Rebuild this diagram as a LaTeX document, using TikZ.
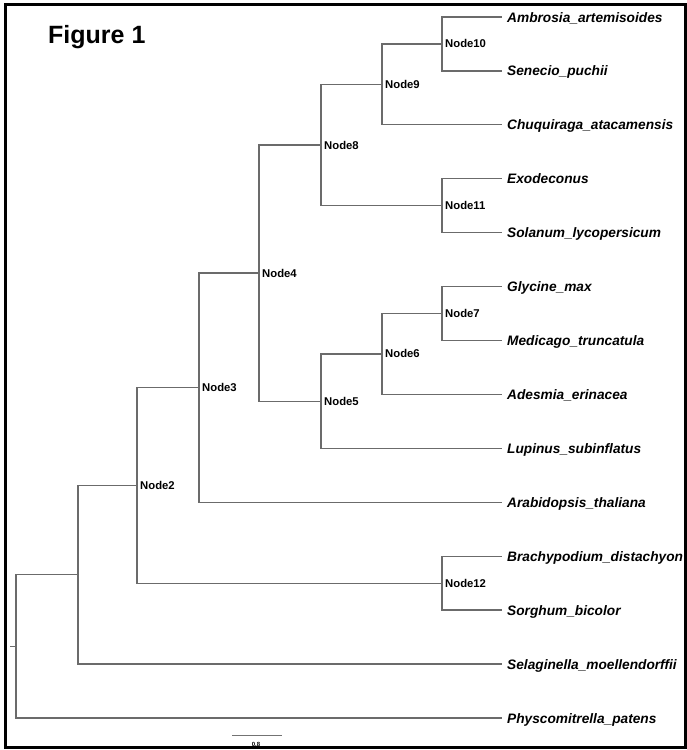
\documentclass[tikz,border=0pt]{standalone}
\usepackage{fontspec}
\setmainfont{Liberation Sans}
\begin{document}
\begin{tikzpicture}[x=1pt,y=-1pt,
  br/.style={draw=black!58, line width=1.3pt},
  leaf/.style={anchor=base west, inner sep=0pt, font=\fontsize{13.7}{16}\selectfont\bfseries\itshape},
  nlab/.style={anchor=base west, inner sep=0pt, font=\fontsize{11.3}{13}\selectfont\bfseries}]
\useasboundingbox (0,0) rectangle (687,750);
\draw[line width=2.5pt] (5.25,4.25) rectangle (685.5,747.5);
\node[anchor=base west, inner sep=0pt, font=\fontsize{25}{28}\selectfont\bfseries] (title) at (48,43) {Figure 1};
% tips
\coordinate (t0) at (502,17);
\coordinate (t1) at (502,70.9);
\coordinate (t2) at (502,124.8);
\coordinate (t3) at (502,178.8);
\coordinate (t4) at (502,232.7);
\coordinate (t5) at (502,286.6);
\coordinate (t6) at (502,340.5);
\coordinate (t7) at (502,394.4);
\coordinate (t8) at (502,448.4);
\coordinate (t9) at (502,502.3);
\coordinate (t10) at (502,556.2);
\coordinate (t11) at (502,610.1);
\coordinate (t12) at (502,664.0);
\coordinate (t13) at (502,718.0);
% internal nodes
\coordinate (n10) at (442,43.95);
\coordinate (n9) at (382,84.4);
\coordinate (n11) at (442,205.75);
\coordinate (n8) at (321,145.1);
\coordinate (n7) at (442,313.55);
\coordinate (n6) at (382,353.98);
\coordinate (n5) at (321,401.2);
\coordinate (n4) at (259,273.1);
\coordinate (n3) at (199,387.7);
\coordinate (n12) at (442,583.15);
\coordinate (n2) at (137,485.4);
\coordinate (n1) at (78,574.7);
\coordinate (r) at (16,646.3);
\coordinate (stub) at (10,646.3);
% branches
\draw[br] (stub) -- (r);
\draw[br] (r) |- (n1);
\draw[br] (r) |- (t13);
\draw[br] (n1) |- (n2);
\draw[br] (n1) |- (t12);
\draw[br] (n2) |- (n3);
\draw[br] (n2) |- (n12);
\draw[br] (n12) |- (t10);
\draw[br] (n12) |- (t11);
\draw[br] (n3) |- (n4);
\draw[br] (n3) |- (t9);
\draw[br] (n4) |- (n8);
\draw[br] (n4) |- (n5);
\draw[br] (n8) |- (n9);
\draw[br] (n8) |- (n11);
\draw[br] (n9) |- (n10);
\draw[br] (n9) |- (t2);
\draw[br] (n10) |- (t0);
\draw[br] (n10) |- (t1);
\draw[br] (n11) |- (t3);
\draw[br] (n11) |- (t4);
\draw[br] (n5) |- (n6);
\draw[br] (n5) |- (t8);
\draw[br] (n6) |- (n7);
\draw[br] (n6) |- (t7);
\draw[br] (n7) |- (t5);
\draw[br] (n7) |- (t6);
% node labels
\node[nlab] (l2) at ([xshift=3pt,yshift=-4pt]n2) {Node2};
\node[nlab] (l3) at ([xshift=3pt,yshift=-4pt]n3) {Node3};
\node[nlab] (l4) at ([xshift=3pt,yshift=-4pt]n4) {Node4};
\node[nlab] (l5) at ([xshift=3pt,yshift=-4pt]n5) {Node5};
\node[nlab] (l6) at ([xshift=3pt,yshift=-4pt]n6) {Node6};
\node[nlab] (l7) at ([xshift=3pt,yshift=-4pt]n7) {Node7};
\node[nlab] (l8) at ([xshift=3pt,yshift=-4pt]n8) {Node8};
\node[nlab] (l9) at ([xshift=3pt,yshift=-4pt]n9) {Node9};
\node[nlab] (l10) at ([xshift=3pt,yshift=-4pt]n10) {Node10};
\node[nlab] (l11) at ([xshift=3pt,yshift=-4pt]n11) {Node11};
\node[nlab] (l12) at ([xshift=3pt,yshift=-4pt]n12) {Node12};
% leaf labels
\node[leaf] (s0) at ([xshift=5pt,yshift=-5pt]t0) {Ambrosia\_artemisoides};
\node[leaf] (s1) at ([xshift=5pt,yshift=-5pt]t1) {Senecio\_puchii};
\node[leaf] (s2) at ([xshift=5pt,yshift=-5pt]t2) {Chuquiraga\_atacamensis};
\node[leaf] (s3) at ([xshift=5pt,yshift=-5pt]t3) {Exodeconus};
\node[leaf] (s4) at ([xshift=5pt,yshift=-5pt]t4) {Solanum\_lycopersicum};
\node[leaf] (s5) at ([xshift=5pt,yshift=-5pt]t5) {Glycine\_max};
\node[leaf] (s6) at ([xshift=5pt,yshift=-5pt]t6) {Medicago\_truncatula};
\node[leaf] (s7) at ([xshift=5pt,yshift=-5pt]t7) {Adesmia\_erinacea};
\node[leaf] (s8) at ([xshift=5pt,yshift=-5pt]t8) {Lupinus\_subinflatus};
\node[leaf] (s9) at ([xshift=5pt,yshift=-5pt]t9) {Arabidopsis\_thaliana};
\node[leaf] (s10) at ([xshift=5pt,yshift=-5pt]t10) {Brachypodium\_distachyon};
\node[leaf] (s11) at ([xshift=5pt,yshift=-5pt]t11) {Sorghum\_bicolor};
\node[leaf] (s12) at ([xshift=5pt,yshift=-5pt]t12) {Selaginella\_moellendorffii};
\node[leaf] (s13) at ([xshift=5pt,yshift=-5pt]t13) {Physcomitrella\_patens};
% scale bar
\coordinate (sb1) at (232,735);
\coordinate (sb2) at (282,735);
\draw[draw=black!55, line width=1pt] (sb1) -- (sb2);
\node[anchor=base, inner sep=0pt, font=\fontsize{6}{7}\selectfont\bfseries] (sbl) at (256,746.5) {0.8};
\end{tikzpicture}
\end{document}
